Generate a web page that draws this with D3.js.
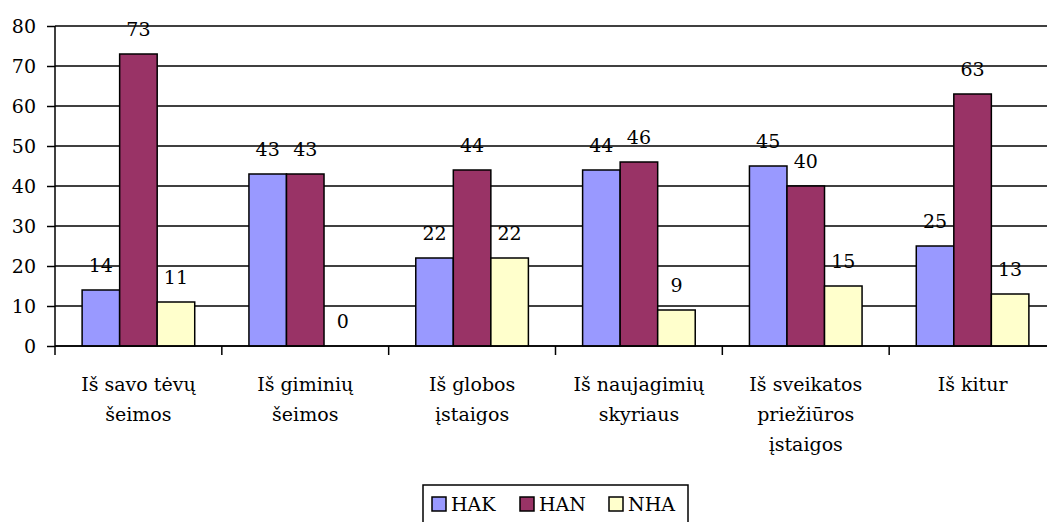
<!DOCTYPE html>
<html><head><meta charset="utf-8">
<script src="https://cdn.jsdelivr.net/npm/d3@7"></script>
<style>body{margin:0;background:#fff}svg{display:block}svg text{fill:#000}</style>
</head><body><svg id="c" width="1047" height="522"></svg>
<script>
const categories = [["Iš savo tėvų","šeimos"],["Iš giminių","šeimos"],["Iš globos","įstaigos"],["Iš naujagimių","skyriaus"],["Iš sveikatos","priežiūros","įstaigos"],["Iš kitur"]];
const seriesNames = ["HAK","HAN","NHA"];
const HAK = [14,43,22,44,45,25];
const HAN = [73,43,44,46,40,63];
const NHA = [11,0,22,9,15,13];
const yTicks = [0,10,20,30,40,50,60,70,80];
const colors = ["#9999FF","#993366","#FFFFCC"];

(function(){
const values = [HAK,HAN,NHA];
const svg = d3.select("#c");
const pL = 55, pR = 1056, pT = 26, pB = 346;
const idx = d3.range(categories.length);
const x0 = d3.scaleBand().domain(idx).range([pL,pR]).paddingInner(0.325).paddingOuter(0.1625);
const x1 = d3.scaleBand().domain(d3.range(3)).range([0,x0.bandwidth()]);
const y = d3.scaleLinear().domain([0,80]).range([pB,pT]);
const fs = 19;
const ff = "DejaVu Serif";

svg.append("g").selectAll("line").data(yTicks).join("line")
  .attr("x1",pL).attr("x2",1047).attr("y1",d=>y(d)).attr("y2",d=>y(d))
  .attr("stroke","#000").attr("stroke-width",1.5);

const ya = svg.append("g").attr("transform",`translate(${pL},0)`)
  .call(d3.axisLeft(y).tickValues(yTicks).tickSize(8).tickPadding(11));
ya.attr("font-family",ff).attr("font-size",fs);
ya.select(".domain").remove();
ya.selectAll(".tick line").attr("stroke","#000").attr("stroke-width",1.5);
ya.selectAll("text").attr("font-size",fs).attr("font-family",ff).attr("dy","0.36em");
svg.append("line").attr("x1",pL).attr("x2",pL).attr("y1",pT).attr("y2",pB)
  .attr("stroke","#000").attr("stroke-width",1.5);

const bounds = d3.range(categories.length+1).map(i=>pL + i*x0.step());
svg.append("g").selectAll("line").data(bounds).join("line")
  .attr("x1",d=>d).attr("x2",d=>d).attr("y1",pB).attr("y2",pB+9)
  .attr("stroke","#000").attr("stroke-width",1.5);

const g = svg.append("g");
seriesNames.forEach((s,si)=>{
  g.append("g").selectAll("rect").data(values[si]).join("rect")
    .attr("x",(d,i)=>x0(i)+x1(si)).attr("width",x1.bandwidth())
    .attr("y",d=>y(d)).attr("height",d=>pB-y(d))
    .attr("fill",colors[si]).attr("stroke","#000").attr("stroke-width",1.5);
  g.append("g").selectAll("text").data(values[si]).join("text")
    .attr("x",(d,i)=>x0(i)+x1(si)+x1.bandwidth()/2).attr("y",d=>y(d)-18)
    .attr("text-anchor","middle").attr("font-size",fs).attr("font-family",ff).text(d=>d);
});
svg.append("line").attr("x1",pL).attr("x2",1047).attr("y1",pB).attr("y2",pB)
  .attr("stroke","#000").attr("stroke-width",1.5);

categories.forEach((lines,i)=>{
  const t = svg.append("text").attr("text-anchor","middle").attr("font-size",fs).attr("font-family",ff);
  lines.forEach((l,j)=>t.append("tspan").attr("x",x0(i)+x0.bandwidth()/2).attr("y",391+j*30).text(l));
});

const lg = svg.append("g");
lg.append("rect").attr("x",423).attr("y",485).attr("width",265).attr("height",40)
  .attr("fill","#fff").attr("stroke","#000").attr("stroke-width",1.5);
const lx = [432,520,609];
seriesNames.forEach((s,si)=>{
  lg.append("rect").attr("x",lx[si]).attr("y",497).attr("width",14).attr("height",14)
    .attr("fill",colors[si]).attr("stroke","#000").attr("stroke-width",1.5);
  lg.append("text").attr("x",lx[si]+19).attr("y",511).attr("font-size",fs).attr("font-family",ff).text(s);
});
})();
</script></body></html>
